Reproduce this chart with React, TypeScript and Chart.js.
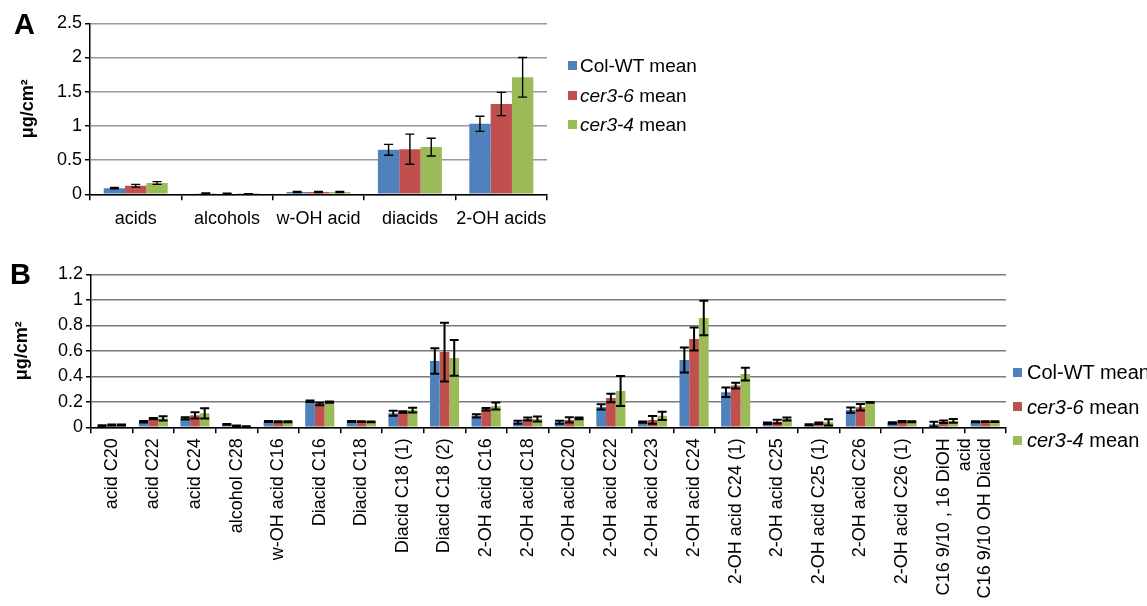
import React, { useEffect, useRef } from "react";
import { Chart, registerables } from "chart.js";

Chart.register(...registerables);

const FONT = "'Liberation Sans', Arial, Helvetica, sans-serif";
const COLORS = ["#4F81BD", "#C0504D", "#9BBB59"];

const seriesBase = ["Col-WT", "cer3-6", "cer3-4"];
const seriesItalic = [false, true, true];
const seriesSuffix = " mean";

// Panel A
const categoriesA = ["acids", "alcohols", "w-OH acid", "diacids", "2-OH acids"];
const wtA = [0.09, 0.015, 0.035, 0.65, 1.03];
const wtErrA = [0.01, 0.005, 0.008, 0.08, 0.11];
const c6A = [0.125, 0.01, 0.035, 0.66, 1.32];
const c6ErrA = [0.02, 0.005, 0.008, 0.22, 0.17];
const c4A = [0.165, 0.004, 0.035, 0.69, 1.71];
const c4ErrA = [0.02, 0.003, 0.008, 0.13, 0.29];
const yTicksA = [0, 0.5, 1, 1.5, 2, 2.5];

// Panel B
const categoriesB: (string | string[])[] = [
  "acid C20", "acid C22", "acid C24", "alcohol C28", "w-OH acid C16",
  "Diacid C16", "Diacid C18", "Diacid C18 (1)", "Diacid C18 (2)",
  "2-OH acid C16", "2-OH acid C18", "2-OH acid C20", "2-OH acid C22",
  "2-OH acid C23", "2-OH acid C24", "2-OH acid C24 (1)", "2-OH acid C25",
  "2-OH acid C25 (1)", "2-OH acid C26", "2-OH acid C26 (1)",
  ["C16 9/10 , 16 DiOH", "acid"], "C16 9/10 OH Diacid",
];
const wtB = [0.013, 0.044, 0.07, 0.023, 0.045, 0.205, 0.045, 0.11, 0.52, 0.09, 0.04, 0.04, 0.16, 0.04, 0.528, 0.275, 0.031, 0.02, 0.135, 0.034, 0.024, 0.044];
const wtErrB = [0.003, 0.006, 0.008, 0.003, 0.004, 0.006, 0.004, 0.02, 0.10, 0.013, 0.012, 0.012, 0.02, 0.005, 0.098, 0.037, 0.006, 0.004, 0.02, 0.006, 0.02, 0.004];
const c6B = [0.018, 0.068, 0.094, 0.012, 0.043, 0.183, 0.045, 0.12, 0.59, 0.142, 0.065, 0.058, 0.23, 0.058, 0.693, 0.327, 0.044, 0.031, 0.157, 0.044, 0.044, 0.044];
const c6ErrB = [0.003, 0.005, 0.024, 0.003, 0.004, 0.01, 0.003, 0.006, 0.23, 0.01, 0.012, 0.02, 0.034, 0.03, 0.09, 0.022, 0.015, 0.006, 0.026, 0.005, 0.01, 0.003];
const c4B = [0.018, 0.07, 0.11, 0.006, 0.043, 0.198, 0.042, 0.135, 0.544, 0.167, 0.065, 0.07, 0.285, 0.09, 0.857, 0.418, 0.065, 0.039, 0.196, 0.044, 0.05, 0.044];
const c4ErrB = [0.003, 0.016, 0.04, 0.002, 0.004, 0.005, 0.003, 0.018, 0.14, 0.027, 0.02, 0.006, 0.118, 0.032, 0.135, 0.05, 0.012, 0.025, 0.003, 0.004, 0.015, 0.003];
const yTicksB = [0, 0.2, 0.4, 0.6, 0.8, 1, 1.2];

const errorBarPlugin = {
  id: "errorBars",
  afterDatasetsDraw(chart: any, _args: any, opts: any) {
    const { ctx } = chart;
    const yScale = chart.scales.y;
    ctx.save();
    ctx.strokeStyle = "#000";
    ctx.lineWidth = opts.lineWidth || 1.5;
    const half = (opts.capWidth || 8) / 2;
    chart.data.datasets.forEach((ds: any, di: number) => {
      const meta = chart.getDatasetMeta(di);
      meta.data.forEach((bar: any, i: number) => {
        const v = ds.data[i];
        const e = ds.errors[i];
        const x = bar.x;
        const yTop = yScale.getPixelForValue(v + e);
        const yBot = yScale.getPixelForValue(Math.max(0, v - e));
        ctx.beginPath();
        ctx.moveTo(x, yTop);
        ctx.lineTo(x, yBot);
        ctx.moveTo(x - half, yTop);
        ctx.lineTo(x + half, yTop);
        ctx.moveTo(x - half, yBot);
        ctx.lineTo(x + half, yBot);
        ctx.stroke();
      });
    });
    ctx.restore();
  },
};

type PanelCfg = {
  labels: (string | string[])[];
  values: number[][];
  errors: number[][];
  yTicks: number[];
  height: number;
  padTop: number;
  padRight: number;
  yWidth: number;
  xHeight: number;
  titlePad: number;
  capWidth: number;
  errLine: number;
  gridColor: string;
  xFont: number;
  xPad: number;
  yFont: number;
  rotation: number;
};

function buildConfig(c: PanelCfg): any {
  return {
    type: "bar",
    data: {
      labels: c.labels,
      datasets: c.values.map((vals, i) => ({
        label: seriesBase[i] + seriesSuffix,
        data: vals,
        errors: c.errors[i],
        backgroundColor: COLORS[i],
        borderWidth: 0,
        categoryPercentage: 0.7,
        barPercentage: 1.0,
      })),
    },
    options: {
      responsive: false,
      animation: false,
      devicePixelRatio: 1,
      layout: { padding: { top: c.padTop, right: c.padRight, left: 0, bottom: 0 } },
      plugins: {
        legend: { display: false },
        tooltip: { enabled: false },
        errorBars: { capWidth: c.capWidth, lineWidth: c.errLine },
      },
      scales: {
        x: {
          grid: {
            display: true,
            drawOnChartArea: false,
            drawTicks: true,
            tickLength: 6,
            color: "#000",
            lineWidth: 1.5,
            offset: true,
          },
          border: { display: true, color: "#000", width: 1.5 },
          ticks: {
            color: "#000",
            font: { family: FONT, size: c.xFont },
            autoSkip: false,
            minRotation: c.rotation,
            maxRotation: c.rotation,
            padding: c.xPad,
          },
          afterFit: (scale: any) => {
            scale.height = c.xHeight;
          },
        },
        y: {
          min: 0,
          max: c.yTicks[c.yTicks.length - 1],
          afterBuildTicks: (scale: any) => {
            scale.ticks = c.yTicks.map((v) => ({ value: v }));
          },
          grid: {
            color: c.gridColor,
            lineWidth: 1.5,
            drawTicks: true,
            tickLength: 5,
            tickColor: "#000",
          },
          border: { display: true, color: "#000", width: 1.5 },
          ticks: {
            color: "#000",
            font: { family: FONT, size: c.yFont },
            padding: 3,
            callback: (v: any) => String(v),
          },
          title: {
            display: true,
            text: "μg/cm²",
            color: "#000",
            font: { family: FONT, size: 18, weight: "bold" },
            padding: { top: c.titlePad, bottom: 0 },
          },
          afterFit: (scale: any) => {
            scale.width = c.yWidth;
          },
        },
      },
    },
    plugins: [errorBarPlugin],
  };
}

const panelA: PanelCfg = {
  labels: categoriesA,
  values: [wtA, c6A, c4A],
  errors: [wtErrA, c6ErrA, c4ErrA],
  yTicks: yTicksA,
  height: 250,
  padTop: 23.3,
  padRight: 1147 - 547,
  yWidth: 90,
  xHeight: 250 - 194.3,
  titlePad: 17,
  capWidth: 9,
  errLine: 1.4,
  gridColor: "#9a9a9a",
  xFont: 18,
  xPad: 8,
  yFont: 18,
  rotation: 0,
};

const panelB: PanelCfg = {
  labels: categoriesB,
  values: [wtB, c6B, c4B],
  errors: [wtErrB, c6ErrB, c4ErrB],
  yTicks: yTicksB,
  height: 356,
  padTop: 24.3,
  padRight: 1147 - 1006,
  yWidth: 91,
  xHeight: 356 - 177.3,
  titlePad: 11,
  capWidth: 9,
  errLine: 2,
  gridColor: "#7a7a7a",
  xFont: 18,
  xPad: 5,
  yFont: 18,
  rotation: 90,
};

function BarPanel({ cfg, top }: { cfg: PanelCfg; top: number }) {
  const ref = useRef<HTMLCanvasElement | null>(null);
  useEffect(() => {
    if (!ref.current) return;
    const chart = new Chart(ref.current, buildConfig(cfg));
    return () => chart.destroy();
  }, [cfg]);
  return (
    <canvas
      ref={ref}
      width={1147}
      height={cfg.height}
      style={{ position: "absolute", left: 0, top, width: 1147, height: cfg.height }}
    />
  );
}

function Legend({ left, tops, textGap, size }: { left: number; tops: number[]; textGap: number; size: number }) {
  return (
    <>
      {seriesBase.map((name, i) => (
        <div
          key={name}
          style={{
            position: "absolute",
            left,
            top: tops[i],
            height: size,
            display: "flex",
            alignItems: "center",
            fontFamily: FONT,
            fontSize: size,
            lineHeight: size + "px",
            color: "#000",
            whiteSpace: "nowrap",
          }}
        >
          <span style={{ display: "inline-block", width: 9, height: 9, background: COLORS[i], marginRight: textGap, flexShrink: 0 }} />
          <span>
            {seriesItalic[i] ? <i>{name}</i> : name}
            {seriesSuffix}
          </span>
        </div>
      ))}
    </>
  );
}

const letterStyle: React.CSSProperties = {
  position: "absolute",
  fontFamily: FONT,
  fontWeight: "bold",
  fontSize: 29,
  lineHeight: "29px",
  color: "#000",
};

export default function App() {
  return (
    <div style={{ position: "absolute", left: 0, top: 0, width: 1147, height: 606, background: "#fff", overflow: "hidden" }}>
      <BarPanel cfg={panelA} top={0} />
      <BarPanel cfg={panelB} top={250} />
      <div style={{ ...letterStyle, left: 14, top: 9.6 }}>A</div>
      <div style={{ ...letterStyle, left: 10, top: 259.6 }}>B</div>
      <Legend left={568} tops={[56, 85.5, 115]} textGap={3} size={19} />
      <Legend left={1013} tops={[362, 396.5, 430]} textGap={5} size={20} />
    </div>
  );
}
